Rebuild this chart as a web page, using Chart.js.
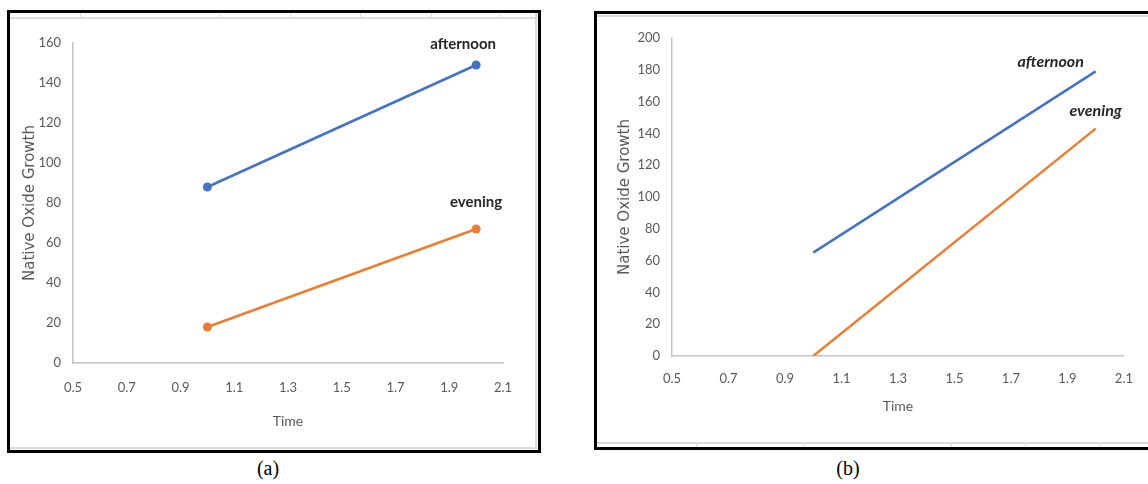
<!DOCTYPE html>
<html>
<head>
<meta charset="utf-8">
<script src="https://cdn.jsdelivr.net/npm/chart.js@4.4.0/dist/chart.umd.min.js"></script>
<style>
  html, body { margin: 0; padding: 0; background: #fff; overflow: hidden; }
  body { width: 1148px; height: 484px; position: relative; }
  .frame { position: absolute; box-sizing: border-box; border: 3px solid #000; background: #fff; }
  .cell { position: absolute; background: #dcdcdc; }
  .cap { position: absolute; font-family: "Liberation Serif", serif; font-size: 20px; color: #000; transform: translateX(-50%); }
  canvas { position: absolute; }
</style>
</head>
<body>
<div class="frame" id="frameA" style="left:7px;top:10px;width:534px;height:443px;"></div>
<div class="frame" id="frameB" style="left:594px;top:11px;width:570px;height:439px;"></div>

<!-- light spreadsheet cell lines showing round the charts -->
<div class="cell" style="left:10px;top:17px;width:528px;height:2px;"></div>
<div class="cell" style="left:10px;top:447px;width:528px;height:2px;"></div>
<div class="cell" style="left:535px;top:13px;width:2px;height:436px;"></div>
<div class="cell" style="left:80px;top:13px;width:1px;height:5px;"></div>
<div class="cell" style="left:219px;top:13px;width:1px;height:5px;"></div>
<div class="cell" style="left:290px;top:13px;width:1px;height:5px;"></div>
<div class="cell" style="left:360px;top:13px;width:1px;height:5px;"></div>
<div class="cell" style="left:431px;top:13px;width:1px;height:5px;"></div>
<div class="cell" style="left:500px;top:13px;width:1px;height:5px;"></div>

<div class="cell" style="left:597px;top:15px;width:551px;height:2px;"></div>
<div class="cell" style="left:597px;top:442px;width:551px;height:2px;"></div>
<div class="cell" style="left:696px;top:14px;width:1px;height:3px;"></div>
<div class="cell" style="left:803px;top:14px;width:1px;height:3px;"></div>
<div class="cell" style="left:951px;top:14px;width:1px;height:3px;"></div>
<div class="cell" style="left:1025px;top:14px;width:1px;height:3px;"></div>
<div class="cell" style="left:1099px;top:14px;width:1px;height:3px;"></div>
<div class="cell" style="left:696px;top:443px;width:1px;height:4px;"></div>
<div class="cell" style="left:803px;top:443px;width:1px;height:4px;"></div>
<div class="cell" style="left:951px;top:443px;width:1px;height:4px;"></div>
<div class="cell" style="left:1025px;top:443px;width:1px;height:4px;"></div>
<div class="cell" style="left:1099px;top:443px;width:1px;height:4px;"></div>

<canvas id="chartA" style="left:10px;top:19px;" width="525" height="428"></canvas>
<canvas id="chartB" style="left:597px;top:17px;" width="551" height="425"></canvas>

<div class="cap" style="left:268px;top:457px;">(a)</div>
<div class="cap" style="left:848px;top:457px;">(b)</div>

<script>
// data
const timeA = [1, 2];
const afternoonA = [88, 149];
const eveningA = [18, 67];

const timeB = [1, 2];
const afternoonB = [65, 179];
const eveningB = [0, 143];

const xTicks = [0.5, 0.7, 0.9, 1.1, 1.3, 1.5, 1.7, 1.9, 2.1];
const yMaxA = 160;
const yMaxB = 200;

const blue = '#4472c4';
const orange = '#ed7d31';
const tickGrey = '#595959';
const axisGrey = '#c4c4c4';

function pairs(xs, ys) {
    return xs.map((x, i) => ({x: x, y: ys[i]}));
}

// writes the series name next to its last point
const endLabels = {
    id: 'endLabels',
    afterDatasetsDraw(chart, args, opts) {
        const ctx = chart.ctx;
        ctx.save();
        ctx.font = opts.font;
        ctx.fillStyle = '#262626';
        ctx.textAlign = 'center';
        ctx.textBaseline = 'middle';
        chart.data.datasets.forEach((ds, i) => {
            const meta = chart.getDatasetMeta(i);
            const pt = meta.data[meta.data.length - 1];
            const off = opts.offsets[i];
            ctx.fillText(ds.label, pt.x + off[0], pt.y + off[1]);
        });
        ctx.restore();
    }
};

function makeChart(id, cfg) {
    return new Chart(document.getElementById(id), {
        type: 'line',
        data: {
            datasets: [
                {
                    label: 'afternoon',
                    data: pairs(cfg.time, cfg.afternoon),
                    borderColor: blue,
                    backgroundColor: blue,
                    borderWidth: 2.5,
                    pointRadius: cfg.pointRadius,
                    pointBorderWidth: 0
                },
                {
                    label: 'evening',
                    data: pairs(cfg.time, cfg.evening),
                    borderColor: orange,
                    backgroundColor: orange,
                    borderWidth: 2.5,
                    pointRadius: cfg.pointRadius,
                    pointBorderWidth: 0
                }
            ]
        },
        options: {
            responsive: false,
            animation: false,
            layout: {padding: {top: cfg.padTop, right: cfg.padRight, left: 0, bottom: 0}},
            plugins: {
                legend: {display: false},
                tooltip: {enabled: false},
                endLabels: {font: cfg.labelFont, offsets: cfg.labelOffsets}
            },
            scales: {
                x: {
                    type: 'linear',
                    min: 0.5,
                    max: 2.1,
                    afterBuildTicks: (axis) => { axis.ticks = xTicks.map(v => ({value: v})); },
                    afterFit: (axis) => { axis.height = cfg.xHeight; },
                    grid: {display: false, drawTicks: false},
                    border: {display: true, color: axisGrey, width: 1.5},
                    ticks: {
                        color: tickGrey,
                        font: {family: 'Lato', size: 13},
                        padding: cfg.xTickPad,
                        maxRotation: 0,
                        callback: v => v.toFixed(1)
                    },
                    title: {
                        display: true,
                        text: 'Time',
                        color: tickGrey,
                        font: {family: 'Lato', size: 14},
                        padding: {top: 0, bottom: cfg.xTitlePad}
                    }
                },
                y: {
                    min: 0,
                    max: cfg.yMax,
                    ticks: {
                        stepSize: 20,
                        color: tickGrey,
                        font: {family: 'Lato', size: 13},
                        padding: 12
                    },
                    afterFit: (axis) => { axis.width = cfg.yWidth; },
                    grid: {display: false, drawTicks: false},
                    border: {display: true, color: axisGrey, width: 1.5},
                    title: {
                        display: true,
                        text: 'Native Oxide Growth',
                        color: tickGrey,
                        font: {family: 'DejaVu Sans', size: 15},
                        padding: {top: cfg.yTitlePad, bottom: 0}
                    }
                }
            }
        },
        plugins: [endLabels]
    });
}

const chartA = makeChart('chartA', {
    time: timeA, afternoon: afternoonA, evening: eveningA, yMax: yMaxA,
    pointRadius: 4.5,
    padTop: 24, padRight: 32, yWidth: 63, xHeight: 84,
    xTickPad: 17, xTitlePad: 17, yTitlePad: 11,
    labelFont: 'bold 15px Lato',
    labelOffsets: [[-13, -21], [0, -27]]
});

const chartB = makeChart('chartB', {
    time: timeB, afternoon: afternoonB, evening: eveningB, yMax: yMaxB,
    pointRadius: 0,
    padTop: 21, padRight: 22, yWidth: 75, xHeight: 86,
    xTickPad: 15, xTitlePad: 27, yTitlePad: 19,
    labelFont: 'italic bold 16px Lato',
    labelOffsets: [[-45, -10], [0, -18]]
});
</script>
</body>
</html>
